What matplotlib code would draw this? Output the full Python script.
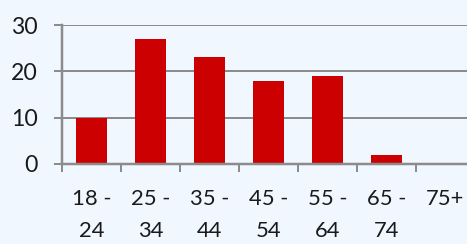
import numpy as np
import matplotlib
matplotlib.use("Agg")
import matplotlib.pyplot as plt

categories = ["18 -\n24", "25 -\n34", "35 -\n44", "45 -\n54", "55 -\n64", "65 -\n74", "75+"]
counts = [10, 27, 23, 18, 19, 2, 0]
y_ticks = [0, 10, 20, 30]

bg = "#F0F7FE"
grey = "#8C8C8C"
px = 72 / 100  # points per pixel at dpi 100

plt.rcParams["font.family"] = ["Lato", "DejaVu Sans"]

fig = plt.figure(figsize=(4.67, 2.44), dpi=100, facecolor=bg)
ax = fig.add_axes([62 / 467, 80 / 244, 413 / 467, 139 / 244], facecolor=bg)

x = np.arange(len(categories))
ax.bar(x, counts, width=0.51, color="#CC0000", zorder=3)

ax.set_xlim(-0.5, len(categories) - 0.5)
ax.set_ylim(0, 30)
ax.set_yticks(y_ticks)
ax.yaxis.grid(True, color=grey, linewidth=2 * px, zorder=1)

ax.set_xticks(x)
ax.set_xticklabels(categories, fontsize=22 * px, linespacing=1.75, color="#1a1a1a")
ax.set_xticks(np.arange(len(categories)) - 0.5, minor=True)
ax.tick_params(axis="x", which="major", length=0, pad=25 * px)
ax.tick_params(axis="x", which="minor", length=8 * px, width=2 * px, color=grey)
ax.tick_params(axis="y", length=8 * px, width=2 * px, color=grey, pad=16 * px,
               labelsize=23 * px, labelcolor="#1a1a1a")

for s in ["top", "right"]:
    ax.spines[s].set_visible(False)
for s in ["left", "bottom"]:
    ax.spines[s].set_color(grey)
    ax.spines[s].set_linewidth(2.5 * px)
    ax.spines[s].set_zorder(4)

fig.savefig("out.png", dpi=100, facecolor=bg)
